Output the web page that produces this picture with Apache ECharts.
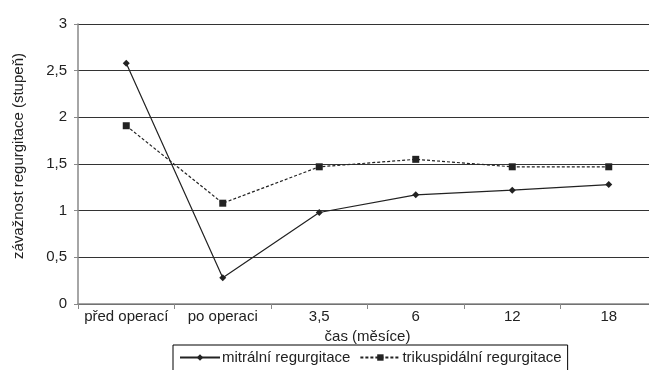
<!DOCTYPE html>
<html><head><meta charset="utf-8">
<script src="https://cdn.jsdelivr.net/npm/echarts@6/dist/echarts.min.js"></script>
<style>html,body{margin:0;padding:0;background:#fff}#c{width:649px;height:370px}</style>
</head><body><div id="c"></div>
<script>
const categories = ['před operací', 'po operaci', '3,5', '6', '12', '18'];
const mitralni = [2.58, 0.28, 0.98, 1.17, 1.22, 1.28];
const trikuspidalni = [1.91, 1.08, 1.47, 1.55, 1.47, 1.47];
const seriesNames = ['mitrální regurgitace', 'trikuspidální regurgitace'];
const yTicks = [0, 0.5, 1, 1.5, 2, 2.5, 3];

const font = 'Liberation Sans, Arial, sans-serif';
const chart = echarts.init(document.getElementById('c'));
chart.setOption({
  animation: false,
  textStyle: { fontFamily: font },
  grid: { left: 78, width: 579, top: 24, bottom: 66, outerBoundsMode: 'none', containLabel: false },
  legend: {
    left: 173, top: 345,
    padding: [5, 6, 6, 6],
    borderColor: '#000', borderWidth: 1, borderRadius: 0,
    itemWidth: 40, itemHeight: 8, itemGap: 9,
    textStyle: { fontFamily: font, fontSize: 15, color: '#222', padding: [0, 0, 0, -3] },
    data: seriesNames
  },
  xAxis: {
    type: 'category', data: categories,
    name: 'čas (měsíce)', nameLocation: 'middle', nameGap: 17,
    nameTextStyle: { fontFamily: font, fontSize: 15, color: '#222' },
    axisLine: { lineStyle: { color: '#888', width: 1.5 } },
    axisTick: { show: true, length: 5, lineStyle: { color: '#888' } },
    axisLabel: { fontFamily: font, fontSize: 15, color: '#222', margin: 5, interval: 0 }
  },
  yAxis: {
    type: 'value', min: 0, max: 3, interval: 0.5,
    name: 'závažnost regurgitace (stupeň)', nameLocation: 'middle', nameGap: 52,
    nameRotate: 90,
    nameTextStyle: { fontFamily: font, fontSize: 15, color: '#222', padding: [0, 0, 0, 16] },
    axisLine: { show: true, lineStyle: { color: '#888', width: 1.5 } },
    axisTick: { show: true, length: 4, lineStyle: { color: '#888' } },
    axisLabel: { fontFamily: font, fontSize: 15, color: '#222', margin: 11,
      formatter: v => yTicks.includes(v) ? String(v).replace('.', ',') : '' },
    splitLine: { lineStyle: { color: '#333', width: 1.2 } }
  },
  series: [
    {
      name: seriesNames[0], type: 'line', data: mitralni,
      symbol: 'diamond', symbolSize: 7, showAllSymbol: true,
      lineStyle: { color: '#222', width: 1.2, type: 'solid' },
      itemStyle: { color: '#222' }
    },
    {
      name: seriesNames[1], type: 'line', data: trikuspidalni,
      symbol: 'rect', symbolSize: 7, showAllSymbol: true,
      lineStyle: { color: '#222', width: 1.2, type: [3, 2] },
      itemStyle: { color: '#222' }
    }
  ]
});
</script></body></html>
